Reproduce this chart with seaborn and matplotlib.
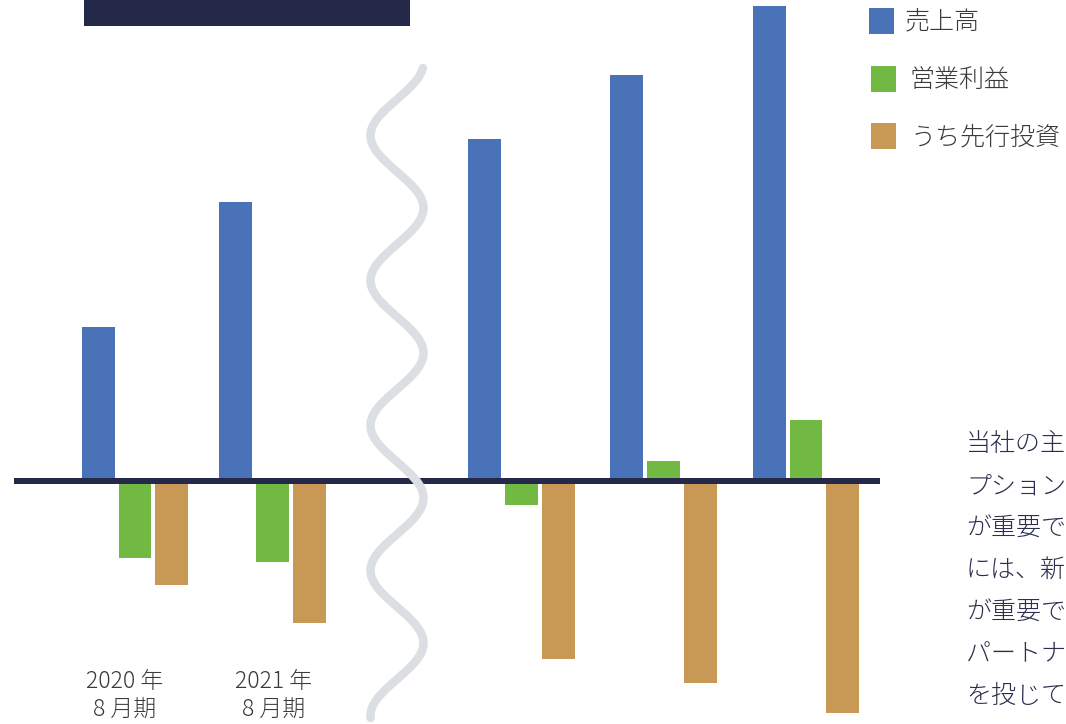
import numpy as np
import pandas as pd
import matplotlib
matplotlib.use("Agg")
import matplotlib.pyplot as plt
from matplotlib.patches import Rectangle
import seaborn as sns

# ---------------- data ----------------
periods = ["2020年8月期", "2021年8月期", "期3", "期4", "期5"]
period_labels = ["2020 年\n8 月期", "2021 年\n8 月期", "", "", ""]
series_names = ["売上高", "営業利益", "うち先行投資"]
sales = [154, 279, 342, 406, 475]
operating_profit = [-77, -81, -24, 20, 61]
upfront_investment = [-104, -142, -178, -202, -232]
body_lines = ["当社の主", "プション", "が重要で", "には、新", "が重要で", "パートナ", "を投じて"]

# ---------------- layout / style ----------------
group_x = [135, 272.5, 521.5, 663.5, 806]   # group centres (px-like units)
label_dx = [-10.5, 1, 0, 0, 0]
legend_box = [(869, 8), (871, 66), (871, 123)]   # top-left px of legend squares
legend_text = [(905, 22), (909, 80), (911, 137)]
colors = ["#4a72b8", "#72b944", "#c89855"]
navy = "#252949"
wave_color = "#dbdee3"
text_color = "#3a3a3a"
body_color = "#2b2f4d"

sns.set_theme(style="white")
plt.rcParams["font.family"] = ["Noto Sans CJK JP", "DejaVu Sans"]
plt.rcParams["font.weight"] = "light"

W, H = 1066, 724
ZERO = 481
fig = plt.figure(figsize=(W / 100, H / 100), dpi=100)
ax = fig.add_axes([0, 0, 1, 1])

rows = []
for name, vals in zip(series_names, [sales, operating_profit, upfront_investment]):
    for p, gx, v in zip(periods, group_x, vals):
        rows.append({"period": p, "x": gx, "series": name, "value": v})
df = pd.DataFrame(rows)

sns.barplot(data=df, x="x", y="value", hue="series", hue_order=series_names,
            palette=colors, native_scale=True, orient="x", width=0.807, gap=0.108,
            dodge=True, saturation=1, errorbar=None, legend=False, linewidth=0,
            ax=ax, zorder=2)

# zero line
ax.plot([14, 880], [0, 0], color=navy, lw=6 * 0.72, solid_capstyle="butt", zorder=3)

# wave break marker
yy = np.linspace(68, 718, 800)
xx = 397 + 26.5 * np.cos(2 * np.pi * (yy - 63) / 145)
ax.plot(xx, ZERO - yy, color=wave_color, lw=8.5 * 0.72, solid_capstyle="round", zorder=4)

# navy header bar
ax.add_patch(Rectangle((84, ZERO - 26), 326, 40, facecolor=navy, edgecolor="none", zorder=5))

# period labels
for gx, dx, lab in zip(group_x, label_dx, period_labels):
    if not lab:
        continue
    top, bottom = lab.split("\n")
    ax.text(gx + dx, ZERO - 681, top, ha="center", va="center", fontsize=16.5, color=text_color)
    ax.text(gx + dx, ZERO - 710, bottom, ha="center", va="center", fontsize=16.5, color=text_color)

# body text (cut at right edge)
for i, line in enumerate(body_lines):
    ax.text(966, ZERO - (444 + 42 * i), line, ha="left", va="center",
            fontsize=18, color=body_color)

# legend (drawn as squares + labels)
for (bx, by), (tx, ty), c, name in zip(legend_box, legend_text, colors, series_names):
    ax.add_patch(Rectangle((bx, ZERO - by - 26), 25, 26, facecolor=c, edgecolor="none", zorder=5))
    ax.text(tx, ZERO - ty, name, ha="left", va="center", fontsize=18, color=text_color)

ax.set_xlim(0, W)
ax.set_ylim(ZERO - H, ZERO)
ax.axis("off")

fig.savefig("out.png", dpi=100)
